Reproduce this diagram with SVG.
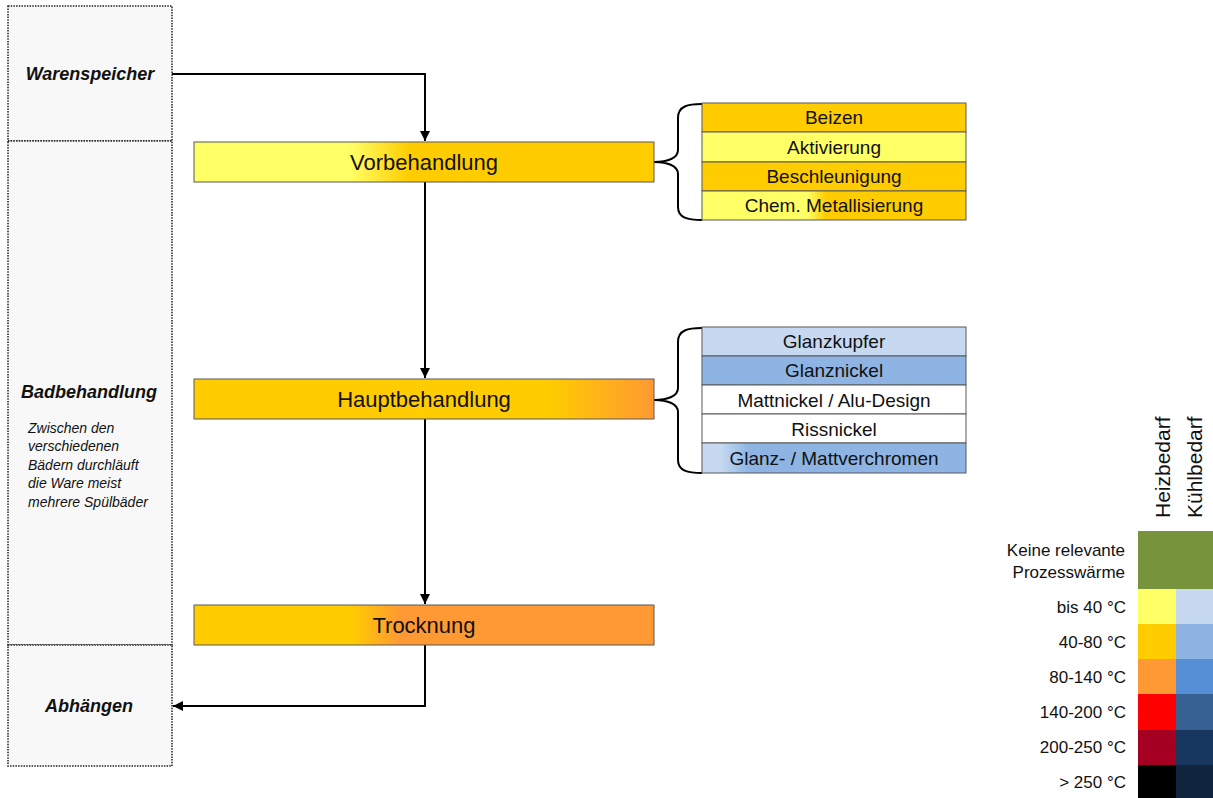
<svg xmlns="http://www.w3.org/2000/svg" width="1213" height="798" viewBox="0 0 1213 798">
<style>
.t{font-family:"Liberation Sans",Arial,sans-serif;fill:#111}
.main{font-size:22px;text-anchor:middle}
.sub{font-size:19px;text-anchor:middle}
.side{font-size:18px;font-weight:bold;font-style:italic;text-anchor:middle}
.note{font-size:14px;font-style:italic}
.leg{font-size:17px;text-anchor:end}
.hdr{font-size:21px}
.box{stroke:#595959;stroke-width:1}
.dot{fill:#f8f8f8;stroke:#222;stroke-width:1.5;stroke-dasharray:1.5 1.2}
.conn{fill:none;stroke:#000;stroke-width:2}
.brace{fill:none;stroke:#000;stroke-width:2}
</style>
<defs>
<linearGradient id="gVor" x1="0" y1="0" x2="1" y2="0"><stop offset="0.34" stop-color="#FFFF66"/><stop offset="0.47" stop-color="#FFCC00"/></linearGradient>
<linearGradient id="gHaupt" x1="0" y1="0" x2="1" y2="0"><stop offset="0.77" stop-color="#FFCC00"/><stop offset="1" stop-color="#FF9933"/></linearGradient>
<linearGradient id="gTrock" x1="0" y1="0" x2="1" y2="0"><stop offset="0.34" stop-color="#FFCC00"/><stop offset="0.45" stop-color="#FF9933"/></linearGradient>
<linearGradient id="gChem" x1="0" y1="0" x2="1" y2="0"><stop offset="0.40" stop-color="#FFFF66"/><stop offset="0.47" stop-color="#FFCC00"/></linearGradient>
<linearGradient id="gChrom" x1="0" y1="0" x2="1" y2="0"><stop offset="0.07" stop-color="#C6D9F1"/><stop offset="0.18" stop-color="#8DB4E2"/></linearGradient>
<marker id="arr" viewBox="0 0 10 10" refX="10" refY="5" markerWidth="5" markerHeight="5" orient="auto" markerUnits="strokeWidth"><path d="M0,0 L10,5 L0,10 z" fill="#000"/></marker>
</defs>
<rect width="1213" height="798" fill="#fff"/>

<g id="side-warenspeicher">
<rect class="dot" x="8" y="6" width="164" height="135"/>
<text class="t side" x="90" y="80">Warenspeicher</text>
</g>
<g id="side-badbehandlung">
<rect class="dot" x="8" y="141" width="164" height="504"/>
<text class="t side" x="89" y="398">Badbehandlung</text>
<text class="t note" x="28" y="433">Zwischen den</text>
<text class="t note" x="28" y="451">verschiedenen</text>
<text class="t note" x="28" y="470">Bädern durchläuft</text>
<text class="t note" x="28" y="488">die Ware meist</text>
<text class="t note" x="28" y="507">mehrere Spülbäder</text>
</g>
<g id="side-abhaengen">
<rect class="dot" x="8" y="645" width="164" height="121"/>
<text class="t side" x="89" y="712">Abhängen</text>
</g>

<g id="connectors">
<path class="conn" d="M172,74 H425 V141" marker-end="url(#arr)"/>
<path class="conn" d="M425,182 V378" marker-end="url(#arr)"/>
<path class="conn" d="M425,419 V604" marker-end="url(#arr)"/>
<path class="conn" d="M425,645 V706 H173" marker-end="url(#arr)"/>
<path class="brace" d="M702,104 C688,104 678,106 678,118 L678,150 C678,158 668,162 654,162 C668,162 678,166 678,174 L678,207 C678,218 688,220 702,220"/>
<path class="brace" d="M702,328 C688,328 678,330 678,342 L678,388 C678,396 668,400 654,400 C668,400 678,404 678,412 L678,460 C678,471 688,473 702,473"/>
</g>

<g id="node-vorbehandlung">
<rect class="box" x="194" y="142" width="460" height="40" fill="url(#gVor)"/>
<text class="t main" x="424" y="170">Vorbehandlung</text>
</g>
<g id="node-hauptbehandlung">
<rect class="box" x="194" y="379" width="460" height="40" fill="url(#gHaupt)"/>
<text class="t main" x="424" y="407">Hauptbehandlung</text>
</g>
<g id="node-trocknung">
<rect class="box" x="194" y="605" width="460" height="40" fill="url(#gTrock)"/>
<text class="t main" x="424" y="633">Trocknung</text>
</g>

<g id="list-vorbehandlung">
<rect class="box" x="702" y="103" width="264" height="29" fill="#FFCC00"/>
<text class="t sub" x="834" y="124">Beizen</text>
<rect class="box" x="702" y="132" width="264" height="30" fill="#FFFF66"/>
<text class="t sub" x="834" y="154">Aktivierung</text>
<rect class="box" x="702" y="162" width="264" height="29" fill="#FFCC00"/>
<text class="t sub" x="834" y="183">Beschleunigung</text>
<rect class="box" x="702" y="191" width="264" height="29" fill="url(#gChem)"/>
<text class="t sub" x="834" y="212">Chem. Metallisierung</text>
</g>

<g id="list-hauptbehandlung">
<rect class="box" x="702" y="327" width="264" height="29" fill="#C6D9F1"/>
<text class="t sub" x="834" y="348">Glanzkupfer</text>
<rect class="box" x="702" y="356" width="264" height="29" fill="#8DB4E2"/>
<text class="t sub" x="834" y="377">Glanznickel</text>
<rect class="box" x="702" y="385" width="264" height="29" fill="#FFFFFF"/>
<text class="t sub" x="834" y="407">Mattnickel / Alu-Design</text>
<rect class="box" x="702" y="414" width="264" height="29" fill="#FFFFFF"/>
<text class="t sub" x="834" y="436">Rissnickel</text>
<rect class="box" x="702" y="443" width="264" height="30" fill="url(#gChrom)"/>
<text class="t sub" x="834" y="465">Glanz- / Mattverchromen</text>
</g>

<g id="legend">
<text class="t hdr" transform="translate(1170,518) rotate(-90)">Heizbedarf</text>
<text class="t hdr" transform="translate(1202,518) rotate(-90)">Kühlbedarf</text>
<rect x="1138" y="531" width="75" height="58" fill="#77933C"/>
<text class="t leg" x="1125" y="556">Keine relevante</text>
<text class="t leg" x="1125" y="578">Prozesswärme</text>
<rect x="1138" y="589" width="38" height="35" fill="#FFFF66"/><rect x="1176" y="589" width="37" height="35" fill="#C6D9F1"/>
<text class="t leg" x="1126" y="613">bis 40 °C</text>
<rect x="1138" y="624" width="38" height="35" fill="#FFCC00"/><rect x="1176" y="624" width="37" height="35" fill="#8DB4E2"/>
<text class="t leg" x="1126" y="648">40-80 °C</text>
<rect x="1138" y="659" width="38" height="35" fill="#FF9933"/><rect x="1176" y="659" width="37" height="35" fill="#558ED5"/>
<text class="t leg" x="1126" y="683">80-140 °C</text>
<rect x="1138" y="694" width="38" height="36" fill="#FF0000"/><rect x="1176" y="694" width="37" height="36" fill="#376092"/>
<text class="t leg" x="1126" y="718">140-200 °C</text>
<rect x="1138" y="730" width="38" height="35" fill="#A50021"/><rect x="1176" y="730" width="37" height="35" fill="#17375E"/>
<text class="t leg" x="1126" y="753">200-250 °C</text>
<rect x="1138" y="765" width="38" height="33" fill="#000000"/><rect x="1176" y="765" width="37" height="33" fill="#10243E"/>
<text class="t leg" x="1126" y="788">&gt; 250 °C</text>
</g>
</svg>
